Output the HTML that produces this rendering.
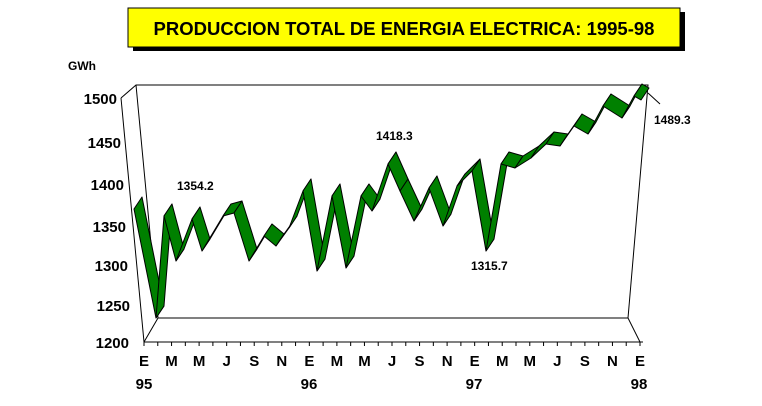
<!DOCTYPE html>
<html><head><meta charset="utf-8"><style>
html,body{margin:0;padding:0;background:#fff;}
body{width:762px;height:406px;overflow:hidden;position:relative;font-family:"Liberation Sans",Arial,sans-serif;}
</style></head><body>
<svg width="762" height="406" viewBox="0 0 762 406" xmlns="http://www.w3.org/2000/svg" style="position:absolute;left:0;top:0">
<rect x="133" y="12" width="552" height="39" fill="#000"/>
<rect x="128" y="8" width="552" height="39" fill="#ffff00" stroke="#000" stroke-width="1"/>
<text x="404" y="35" text-anchor="middle" font-family="Liberation Sans, Arial, sans-serif" font-weight="bold" font-size="18.5">PRODUCCION TOTAL DE ENERGIA ELECTRICA: 1995-98</text>
<text x="68" y="70" font-weight="bold" font-size="12" font-family="Liberation Sans, Arial, sans-serif">GWh</text>
<g fill="none" stroke="#000" stroke-width="1">
<polyline points="121,98 136,85 648,85 628,318 158,318 144,342"/>
<line x1="136" y1="85" x2="158" y2="318"/>
<line x1="121" y1="98" x2="144" y2="342"/>
<polyline points="628,318 640,342"/>
<line x1="144" y1="342" x2="643" y2="342"/>
</g>
<g id="ticks" stroke="#000" stroke-width="1"></g>
<g font-weight="bold" font-size="15" text-anchor="end" font-family="Liberation Sans, Arial, sans-serif">
<text x="117" y="104">1500</text><text x="121" y="148">1450</text><text x="124" y="190">1400</text><text x="126" y="232">1350</text><text x="128" y="271">1300</text><text x="130" y="311">1250</text><text x="129" y="348">1200</text>
</g>
<g font-weight="bold" font-size="15" text-anchor="middle" font-family="Liberation Sans, Arial, sans-serif" id="mlab"></g>
<g font-weight="bold" font-size="15" text-anchor="middle" font-family="Liberation Sans, Arial, sans-serif">
<text x="144" y="389">95</text><text x="309" y="389">96</text><text x="474" y="389">97</text><text x="639" y="389">98</text>
</g>
<g id="rib" fill="#008000" stroke="#000" stroke-width="1" stroke-linejoin="round"></g>
<line x1="648" y1="93" x2="660" y2="104" stroke="#000"/>
<g font-weight="bold" font-size="12" font-family="Liberation Sans, Arial, sans-serif">
<text x="177" y="190">1354.2</text><text x="376" y="140">1418.3</text><text x="471" y="270">1315.7</text><text x="654" y="124">1489.3</text>
</g>
</svg>
<script>
var ns="http://www.w3.org/2000/svg";
var t=document.getElementById("ticks"),m=document.getElementById("mlab"),r=document.getElementById("rib");
var L=["E","","M","","M","","J","","S","","N",""];
for(var i=0;i<=36;i++){var x=144+i*496/36;
var l=document.createElementNS(ns,"line");l.setAttribute("x1",x);l.setAttribute("x2",x);l.setAttribute("y1",342);l.setAttribute("y2",346);t.appendChild(l);
var s=L[i%12];if(s){var tx=document.createElementNS(ns,"text");tx.setAttribute("x",x);tx.setAttribute("y",366);tx.textContent=s;m.appendChild(tx);}}
var P=[[138,203],[160,312],[168,210],[180,255],[196,213],[206,245],[227,210],[238,207],[253,255],[268,230],[280,240],[293,222],[307,185],[321,265],[336,190],[350,262],[365,190],[376,205],[392,158],[404,185],[418,215],[433,182],[447,220],[461,180],[476,165],[490,245],[505,158],[519,162],[535,152],[550,138],[564,140],[578,120],[592,128],[607,100],[626,112],[638,90],[645,94]];
var dx=4,dy=6;
for(var i=0;i<P.length-1;i++){var a=P[i],b=P[i+1];
var p=document.createElementNS(ns,"polygon");
p.setAttribute("points",(a[0]-dx)+","+(a[1]+dy)+" "+(b[0]-dx)+","+(b[1]+dy)+" "+(b[0]+dx)+","+(b[1]-dy)+" "+(a[0]+dx)+","+(a[1]-dy));
r.appendChild(p);}
</script>
</body></html>
